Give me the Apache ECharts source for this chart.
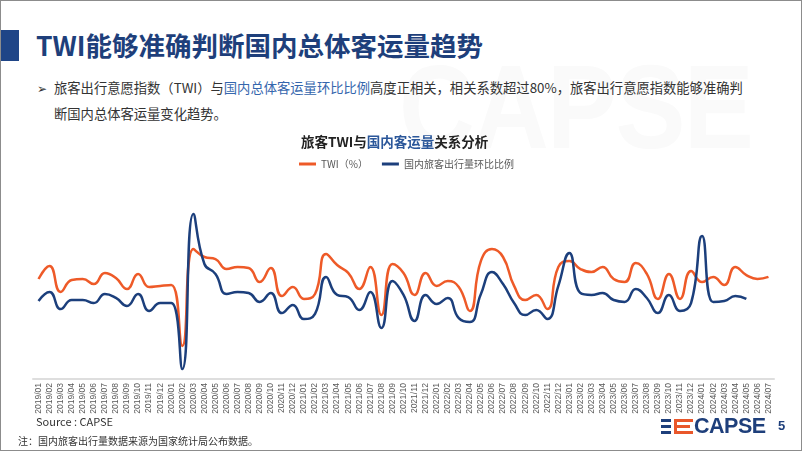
<!DOCTYPE html>
<html>
<head>
<meta charset="utf-8">
<script src="https://cdn.jsdelivr.net/npm/echarts@6/dist/echarts.min.js"></script>
<style>
    body { margin: 0; background: #fff; font-family: "Noto Sans CJK SC", "Noto Sans", sans-serif; }
    #page { position: relative; width: 802px; height: 451px; overflow: hidden; box-sizing: border-box; border: 1px solid #8c8c8c; }
    .abs { position: absolute; white-space: nowrap; }
</style>
</head>
<body>
<div id="page">
    <!-- 水印 -->
    <div class="abs" style="left:398px;top:38px;font:bold 118px 'Liberation Sans';color:#fafafa;transform:scaleX(0.89);transform-origin:left top;letter-spacing:-2px;">CAPSE</div>

    <div class="abs" style="left:0;top:29px;width:18px;height:31px;background:#1f4587;"></div>
    <div class="abs" style="left:35px;top:25px;font-size:26.5px;font-weight:bold;color:#1e3f7b;line-height:38px;">TWI能够准确判断国内总体客运量趋势</div>

    <div class="abs" style="left:36px;top:78px;font-size:12px;color:#333;line-height:18px;">➢</div>
    <div class="abs" style="left:53px;top:77px;font-size:13.3px;color:#333;line-height:20px;">旅客出行意愿指数（TWI）与<span style="color:#3566ad">国内总体客运量环比比例</span>高度正相关，相关系数超过80%，旅客出行意愿指数能够准确判</div>
    <div class="abs" style="left:53px;top:103px;font-size:13.3px;color:#333;line-height:20px;">断国内总体客运量变化趋势。</div>

    <div id="chart" class="abs" style="left:0;top:0;width:802px;height:451px;"></div>

    <div class="abs" style="left:35px;top:412px;font-size:11px;color:#333;line-height:16px;">Source : CAPSE</div>
    <div class="abs" style="left:17px;top:432px;font-size:10px;color:#333;line-height:15px;">注：国内旅客出行量数据来源为国家统计局公布数据。</div>

    <!-- logo -->
    <div class="abs" style="left:660px;top:418px;width:10px;height:3px;background:#1e3f7b;"></div>
    <div class="abs" style="left:660px;top:424px;width:10px;height:3px;background:#1e3f7b;"></div>
    <div class="abs" style="left:660px;top:430px;width:10px;height:3px;background:#1e3f7b;"></div>
    <div class="abs" style="left:673px;top:418px;width:19px;height:3px;background:#e9572a;"></div>
    <div class="abs" style="left:673px;top:424px;width:16px;height:3px;background:#e9572a;"></div>
    <div class="abs" style="left:673px;top:430px;width:19px;height:3px;background:#e9572a;"></div>
    <div class="abs" style="left:673px;top:418px;width:3px;height:15px;background:#e9572a;"></div>
    <div class="abs" style="left:693px;top:411px;font:bold 21.5px 'Liberation Sans';color:#1e3f7b;line-height:28px;letter-spacing:-0.5px;">CAPSE</div>
    <div class="abs" style="left:777px;top:416px;font:bold 13px 'Liberation Sans';color:#1e3f7b;line-height:18px;">5</div>
</div>

<script>
// 月份
const months = [];
for (let y = 2019; y <= 2024; y++) {
    for (let m = 1; m <= 12; m++) {
        if (y === 2024 && m > 7) break;
        months.push(y + '/' + (m < 10 ? '0' + m : m));
    }
}

// TWI（%）
const twi = [
    53.2, 60.1, 46.3, 52.7, 53.2, 50.5, 56.4, 53.7, 47.9, 55.9, 48.9, 49.5,
    50.0, 17.6, 69.1, 64.9, 63.8, 58.5, 59.6, 59.0, 51.6, 59.0, 44.1, 48.9,
    42.6, 45.2, 66.5, 60.6, 56.4, 47.9, 59.6, 34.0, 61.2, 56.4, 44.7, 56.4,
    49.5, 52.1, 48.9, 36.2, 62.8, 69.1, 64.9, 49.5, 42.0, 44.7, 37.2, 59.6,
    62.8, 58.5, 56.9, 59.6, 53.2, 51.6, 61.7, 55.9, 42.6, 55.9, 42.6, 57.4,
    51.6, 54.3, 50.0, 59.6, 55.3, 53.2, 54.3
];

// 国内旅客出行量环比比例
const ratio = [
    41.5, 46.3, 37.2, 42.0, 42.0, 40.4, 45.2, 43.1, 38.8, 45.2, 36.2, 40.4,
    40.4, 5.3, 87.8, 61.2, 55.9, 45.2, 46.3, 45.7, 41.0, 45.7, 35.1, 39.4,
    31.9, 34.6, 54.3, 44.7, 43.6, 36.7, 46.3, 27.1, 52.1, 44.7, 30.9, 44.7,
    39.9, 43.1, 32.4, 30.3, 45.2, 56.9, 50.5, 40.4, 34.0, 36.7, 31.9, 49.5,
    67.0, 45.7, 44.7, 45.7, 42.0, 41.0, 47.9, 43.1, 35.1, 44.7, 36.2, 40.4,
    76.1, 41.0, 41.5, 44.1, 42.6, null, null
];

const chart = echarts.init(document.getElementById('chart'));
chart.setOption({
    animation: false,
    textStyle: { fontFamily: 'Noto Sans CJK SC' },
    title: {
        left: 300,
        top: 134,
        padding: 0,
        text: '{a|旅客TWI与}{b|国内客运量}{a|关系分析}',
        textStyle: {
            rich: {
                a: { fontSize: 13.5, fontWeight: 'bold', color: '#222' },
                b: { fontSize: 13.5, fontWeight: 'bold', color: '#2b579a' }
            }
        }
    },
    legend: {
        top: 158,
        left: 298,
        padding: 0,
        icon: 'rect',
        itemWidth: 17,
        itemHeight: 3,
        itemGap: 14,
        textStyle: { fontSize: 10, color: '#595959' },
        data: ['TWI（%）', '国内旅客出行量环比比例']
    },
    grid: { left: 32, right: 29, top: 190, bottom: 73 },
    xAxis: {
        type: 'category',
        data: months,
        axisLine: { lineStyle: { color: '#dedede', width: 2 } },
        axisTick: { show: false },
        axisLabel: {
            interval: 0,
            rotate: 90,
            fontSize: 8.5,
            fontFamily: 'Liberation Sans',
            color: '#595959',
            margin: 4
        }
    },
    yAxis: {
        type: 'value',
        min: 0,
        max: 100,
        show: false
    },
    series: [
        {
            name: 'TWI（%）',
            type: 'line',
            data: twi,
            smooth: true,
            symbol: 'none',
            lineStyle: { color: '#ee5a28', width: 2.5 },
            itemStyle: { color: '#ee5a28' }
        },
        {
            name: '国内旅客出行量环比比例',
            type: 'line',
            data: ratio,
            smooth: true,
            symbol: 'none',
            lineStyle: { color: '#1c3f7c', width: 2.5 },
            itemStyle: { color: '#1c3f7c' }
        }
    ]
});
</script>
</body>
</html>
